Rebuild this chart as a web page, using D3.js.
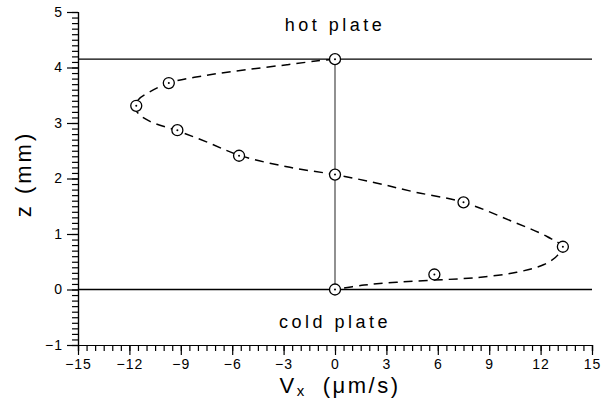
<!DOCTYPE html>
<meta charset="utf-8">
<style>
  html, body { margin: 0; background: #fff; }
  svg text { font-family: "Liberation Sans", Arial, sans-serif; fill: #000; }
  .axis path, .axis line { stroke: #000; stroke-width: 1.2; }
  .axis text { font-size: 14px; letter-spacing: 1px; }
  .plate { stroke: #000; stroke-width: 1.3; }
  .wall { stroke: #555; stroke-width: 1.3; }
  .fit { fill: none; stroke: #000; stroke-width: 1.5; stroke-dasharray: 9,6; }
  .mark { fill: #fff; stroke: #000; stroke-width: 1.3; }
</style>
<body></body>
<script src="https://d3js.org/d3.v7.min.js"></script>
<script>
// measured points (Vx in um/s, z in mm)
var vx = [0, -9.7, -11.6, -9.2, -5.6, 0, 7.5, 13.3, 5.8, 0];
var z  = [4.15, 3.72, 3.31, 2.87, 2.41, 2.07, 1.57, 0.77, 0.27, 0.0];

// dashed fitted profile
var fitVx = [0, -1.0, -2.8, -5.2, -7.5, -9.7, -11.05, -11.45, -11.7, -11.45, -10.8, -9.2, -7.5, -5.6, -2.8, 0, 2.4, 4.6, 7.5, 10.4, 12.4, 13.2, 13.0, 12.2, 10.6, 8.1, 5.8, 3.6, 1.7, 0];
var fitZ  = [4.15, 4.12, 4.05, 3.96, 3.86, 3.72, 3.52, 3.43, 3.30, 3.16, 3.03, 2.86, 2.66, 2.42, 2.21, 2.07, 1.92, 1.76, 1.57, 1.22, 0.95, 0.78, 0.62, 0.45, 0.31, 0.21, 0.17, 0.13, 0.08, 0];

var hotZ = 4.15, coldZ = 0;
var xMajor = [-15, -12, -9, -6, -3, 0, 3, 6, 9, 12, 15];
var yMajor = [-1, 0, 1, 2, 3, 4, 5];

var width = 608, height = 400;
var x = d3.scaleLinear().domain([-15, 15]).range([78, 592]);
var y = d3.scaleLinear().domain([-1, 5]).range([345, 12]);

var svg = d3.select("body").append("svg")
    .attr("width", width)
    .attr("height", height);

function fmt(d) { return d < 0 ? "\u2212" + Math.abs(d) : "" + d; }

// minor ticks
svg.append("g")
    .attr("class", "axis")
    .attr("transform", "translate(0," + y(-1) + ")")
    .call(d3.axisBottom(x).tickValues(d3.range(-15, 15.01, 0.5)).tickSize(6).tickFormat(""));
svg.append("g")
    .attr("class", "axis")
    .attr("transform", "translate(" + x(-15) + ",0)")
    .call(d3.axisLeft(y).tickValues(d3.range(-10, 51).map(function(d) { return d / 10; })).tickSize(6).tickFormat(""));

// major ticks + labels
svg.append("g")
    .attr("class", "axis")
    .attr("transform", "translate(0," + y(-1) + ")")
    .call(d3.axisBottom(x).tickValues(xMajor).tickSize(10).tickSizeOuter(0).tickPadding(4).tickFormat(fmt));
svg.append("g")
    .attr("class", "axis")
    .attr("transform", "translate(" + x(-15) + ",0)")
    .call(d3.axisLeft(y).tickValues(yMajor).tickSize(11).tickSizeOuter(0).tickPadding(4).tickFormat(fmt));

// plates and wall
svg.selectAll(".plate")
    .data([hotZ, coldZ])
  .enter().append("line")
    .attr("class", "plate")
    .attr("x1", x(-15)).attr("x2", x(15))
    .attr("y1", function(d) { return y(d); })
    .attr("y2", function(d) { return y(d); });

svg.append("line")
    .attr("class", "wall")
    .attr("x1", x(0)).attr("x2", x(0))
    .attr("y1", y(coldZ)).attr("y2", y(hotZ));

// fitted profile
var fit = fitVx.map(function(v, i) { return [v, fitZ[i]]; });
svg.append("path")
    .datum(fit)
    .attr("class", "fit")
    .attr("d", d3.line()
        .x(function(d) { return x(d[0]); })
        .y(function(d) { return y(d[1]); })
        .curve(d3.curveCatmullRom.alpha(0.5)));

// markers
var pts = vx.map(function(v, i) { return [v, z[i]]; });
var m = svg.selectAll(".pt")
    .data(pts)
  .enter().append("g")
    .attr("class", "pt")
    .attr("transform", function(d) { return "translate(" + x(d[0]) + "," + y(d[1]) + ")"; });
m.append("circle").attr("class", "mark").attr("r", 5.5);
m.append("circle").attr("r", 1).attr("fill", "#000");

// labels
svg.append("text")
    .attr("x", x(0)).attr("y", 31)
    .attr("text-anchor", "middle")
    .style("font-size", "18px").style("letter-spacing", "3.5px")
    .text("hot plate");
svg.append("text")
    .attr("x", x(0)).attr("y", 328)
    .attr("text-anchor", "middle")
    .style("font-size", "18px").style("letter-spacing", "3.5px")
    .text("cold plate");

var xl = svg.append("text")
    .attr("x", 340).attr("y", 393)
    .attr("text-anchor", "middle")
    .style("font-size", "22px").style("letter-spacing", "2.5px");
xl.append("tspan").text("V");
xl.append("tspan").attr("dy", 3).style("font-size", "15px").text("x");
xl.append("tspan").attr("dy", -3).attr("dx", 16).text("(\u03bcm/s)");

svg.append("text")
    .attr("transform", "translate(31,174) rotate(-90)")
    .attr("text-anchor", "middle")
    .style("font-size", "22px").style("letter-spacing", "3px")
    .text("z  (mm)");
</script>
